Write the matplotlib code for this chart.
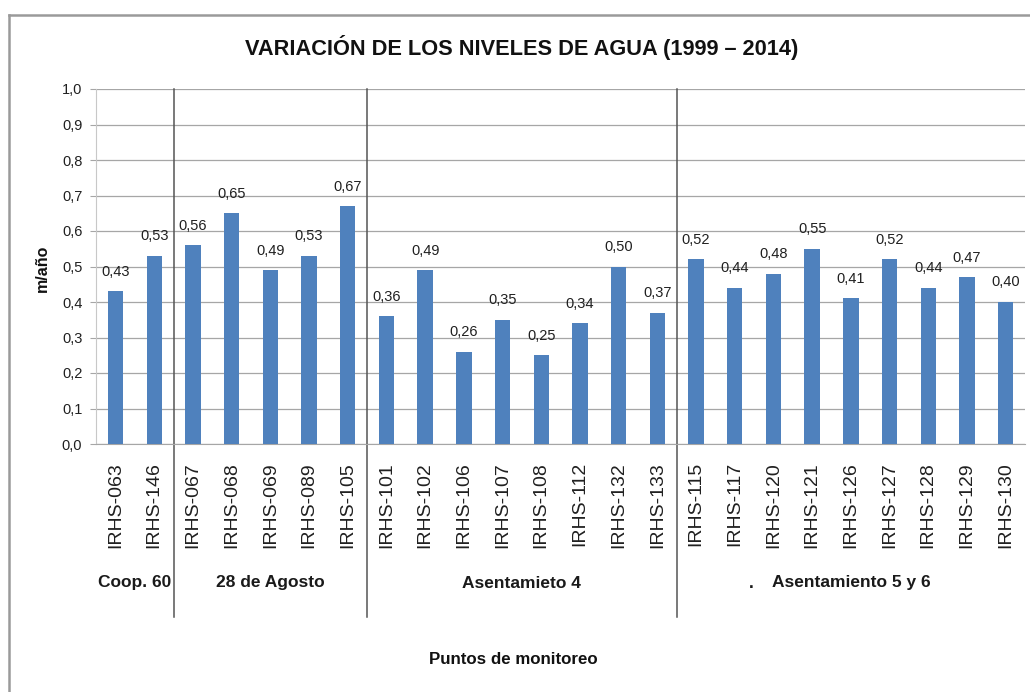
import matplotlib
matplotlib.use("Agg")
import matplotlib.pyplot as plt
from matplotlib.lines import Line2D
from matplotlib import font_manager
import matplotlib.transforms as mtransforms

categories = ["IRHS-063", "IRHS-146", "IRHS-067", "IRHS-068", "IRHS-069", "IRHS-089",
              "IRHS-105", "IRHS-101", "IRHS-102", "IRHS-106", "IRHS-107", "IRHS-108",
              "IRHS-112", "IRHS-132", "IRHS-133", "IRHS-115", "IRHS-117", "IRHS-120",
              "IRHS-121", "IRHS-126", "IRHS-127", "IRHS-128", "IRHS-129", "IRHS-130"]
values = [0.43, 0.53, 0.56, 0.65, 0.49, 0.53, 0.67, 0.36, 0.49, 0.26, 0.35, 0.25,
          0.34, 0.50, 0.37, 0.52, 0.44, 0.48, 0.55, 0.41, 0.52, 0.44, 0.47, 0.40]
group_names = ["Coop. 60", "28 de Agosto", "Asentamieto 4", "Asentamiento 5 y 6"]
group_sizes = [2, 5, 8, 9]
yticks = [0.0, 0.1, 0.2, 0.3, 0.4, 0.5, 0.6, 0.7, 0.8, 0.9, 1.0]
title = "VARIACIÓN DE LOS NIVELES DE AGUA (1999 – 2014)"
xlabel = "Puntos de monitoreo"
ylabel = "m/año"

names = {f.name for f in font_manager.fontManager.ttflist}
narrow_ok = "Liberation Sans Narrow" in names
narrow = ["Liberation Sans Narrow", "Liberation Sans", "DejaVu Sans"] if narrow_ok else ["Liberation Sans", "DejaVu Sans"]
plt.rcParams['font.family'] = ["Liberation Sans", "DejaVu Sans"]

fig = plt.figure(figsize=(10.3, 6.92), dpi=100)
ax = fig.add_axes([96.2 / 1030, 1 - 444 / 692, (1025 - 96.2) / 1030, 355 / 692])

x = list(range(len(categories)))
ax.bar(x, values, width=0.4, color="#4F81BD", zorder=3)
ax.set_xlim(-0.5, len(categories) - 0.5)
ax.set_ylim(0, 1.0)
ax.set_yticks(yticks)
ax.set_yticklabels([f"{v:.1f}".replace(".", ",") for v in yticks], fontsize=10.5, color="#202020")
ax.yaxis.grid(True, color="#A6A6A6", linewidth=0.9, zorder=0)
ax.set_axisbelow(True)
for s in ["top", "right"]:
    ax.spines[s].set_visible(False)
ax.spines["left"].set_color("#C8C8C8")
ax.spines["bottom"].set_color("#A6A6A6")
ax.tick_params(axis="y", length=4, color="#A6A6A6", pad=6)
ax.set_xticks(x)
ax.set_xticklabels(categories, rotation=90, fontsize=14, color="#202020")
ax.tick_params(axis="x", length=0, pad=13)

for xi, v in zip(x, values):
    ax.annotate(f"{v:.2f}".replace(".", ","), (xi, v), xytext=(0, 9),
                textcoords="offset points", ha="center", va="bottom",
                fontsize=10.5, color="#202020")

# group separators and labels
blend = mtransforms.blended_transform_factory(ax.transData, ax.transAxes)
start = 0
bottom_ax = (444 - 617) / 355
label_y = (444 - 583) / 355
gfont = dict(family=narrow, fontweight="bold", fontsize=15 if narrow_ok else 12.5)
for i, (name, n) in enumerate(zip(group_names, group_sizes)):
    center = start + (n - 1) / 2
    ax.text(center, label_y, name, transform=blend, ha="center", va="center",
            color="#1a1a1a", **gfont)
    if i > 0:
        ln = Line2D([start - 0.5, start - 0.5], [1.0, bottom_ax], transform=blend,
                    color="#555555", linewidth=1.1, clip_on=False)
        ax.add_line(ln)
    start += n
ax.text(16.42, label_y, ".", transform=blend, ha="center", va="center",
        color="#1a1a1a", **gfont)

fig.text(522 / 1030, 1 - 48 / 692, title, ha="center", va="center",
         family=narrow, fontweight="bold", fontsize=20 if narrow_ok else 15.7, color="#111111")
fig.text(513 / 1030, 1 - 660 / 692, xlabel, ha="center", va="center",
         family=narrow, fontweight="bold", fontsize=13.5 if narrow_ok else 12.2, color="#111111")
fig.text(42 / 1030, 1 - 268 / 692, ylabel, ha="center", va="center", rotation=90,
         fontweight="bold", fontsize=11.5, color="#111111")

# outer frame (top and left)
fig.add_artist(Line2D([9 / 1030, 1.0], [1 - 15 / 692, 1 - 15 / 692], transform=fig.transFigure,
                      color="#9A9A9A", linewidth=1.8))
fig.add_artist(Line2D([9 / 1030, 9 / 1030], [1 - 15 / 692, 0.0], transform=fig.transFigure,
                      color="#9A9A9A", linewidth=1.8))

fig.savefig("out.png", dpi=100)
